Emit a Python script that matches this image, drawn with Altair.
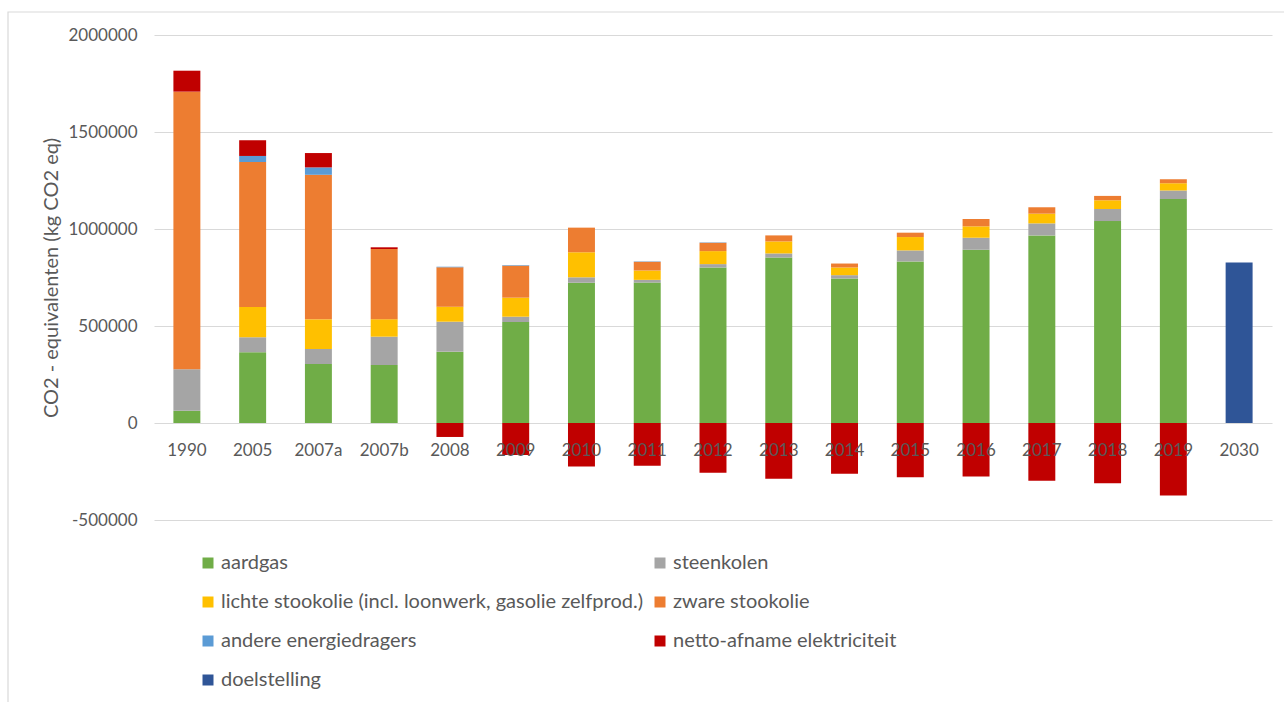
import altair as alt
import pandas as pd

# Years on the x axis (two measurements for 2007)
years = ["1990", "2005", "2007a", "2007b", "2008", "2009", "2010", "2011", "2012",
         "2013", "2014", "2015", "2016", "2017", "2018", "2019", "2030"]

# Emissions per energy carrier, kg CO2 eq
aardgas = [63000, 365000, 304000, 299000, 367600, 520700, 723000, 724000, 801700,
           853000, 745000, 832700, 893000, 967000, 1041000, 1155000, 0]
steenkolen = [214000, 77000, 77500, 146000, 154700, 27300, 28000, 13900, 17300,
              21000, 17000, 56900, 62000, 62000, 62000, 43000, 0]
lichte_stookolie = [0, 156000, 153000, 90000, 77300, 98000, 129000, 48100, 67000,
                    62000, 39700, 68900, 58700, 50000, 45000, 38000, 0]
zware_stookolie = [1431000, 747500, 745000, 362000, 203000, 165000, 127000, 45000, 43000,
                   31000, 20300, 22500, 37900, 33000, 22600, 21000, 0]
andere = [0, 31000, 38000, 0, 3000, 3000, 0, 2000, 2000,
          0, 0, 0, 0, 0, 0, 0, 0]
netto_elektriciteit = [108000, 81000, 74000, 8700, -72000, -165000, -224000, -220000, -257000,
                       -288000, -262000, -279000, -276000, -298000, -310000, -374000, 0]
doelstelling = [0, 0, 0, 0, 0, 0, 0, 0, 0, 0, 0, 0, 0, 0, 0, 0, 827500]

series_names = [
    "aardgas",
    "steenkolen",
    "lichte stookolie (incl. loonwerk, gasolie zelfprod.)",
    "zware stookolie",
    "andere energiedragers",
    "netto-afname elektriciteit",
    "doelstelling",
]
series_values = [aardgas, steenkolen, lichte_stookolie, zware_stookolie,
                 andere, netto_elektriciteit, doelstelling]
series_colors = ["#70AD47", "#A5A5A5", "#FFC000", "#ED7D31", "#5B9BD5", "#C00000", "#2F5597"]

rows = []
for order, (name, values) in enumerate(zip(series_names, series_values)):
    for year, v in zip(years, values):
        if v != 0:
            rows.append({"jaar": year, "drager": name, "waarde": v, "volgorde": order})
df = pd.DataFrame(rows)

FONT = "Lato"
TEXT = "#595959"
GRID = "#D9D9D9"

PLOT_W, PLOT_H = 1118, 485
Y_MIN, Y_MAX = -500000, 2000000
zero_offset = -PLOT_H * (0 - Y_MIN) / (Y_MAX - Y_MIN)

bars = alt.Chart(df).mark_bar().encode(
    x=alt.X(
        "jaar:N",
        sort=years,
        scale=alt.Scale(paddingInner=0.59, paddingOuter=0.295),
        axis=alt.Axis(
            title=None, labelAngle=0, domain=False, ticks=False,
            offset=zero_offset, labelPadding=19, zindex=1,
            labelFont=FONT, labelFontSize=17, labelColor=TEXT,
        ),
    ),
    y=alt.Y(
        "sum(waarde):Q",
        stack="zero",
        scale=alt.Scale(domain=[Y_MIN, Y_MAX], nice=False, zero=True),
        axis=alt.Axis(
            title="CO2 - equivalenten (kg CO2 eq)",
            values=[-500000, 0, 500000, 1000000, 1500000, 2000000],
            labelExpr="datum.value < 0 ? '-' + format(-datum.value, 'd') : format(datum.value, 'd')",
            domain=False, ticks=False,
            grid=True, gridColor=GRID, gridWidth=1,
            labelPadding=17, labelFont=FONT, labelFontSize=17, labelColor=TEXT,
            titleFont=FONT, titleFontSize=20, titleFontWeight="normal",
            titleColor=TEXT, titlePadding=6,
        ),
    ),
    color=alt.Color(
        "drager:N",
        scale=alt.Scale(domain=series_names, range=series_colors),
        legend=alt.Legend(
            title=None, orient="none", direction="horizontal",
            legendX=44, legendY=518,
            columns=2, columnPadding=7, rowPadding=19,
            symbolType="square", symbolSize=121, symbolStrokeWidth=0,
            labelFont=FONT, labelFontSize=20, labelColor=TEXT, labelOffset=3,
            labelLimit=700,
        ),
    ),
    order=alt.Order("volgorde:Q", sort="ascending"),
)

# Light frame around the whole figure
frame = alt.Chart(pd.DataFrame({"k": [0]})).mark_rect(
    fillOpacity=0, stroke=GRID, strokeWidth=1.2
).encode(
    x=alt.value(-146), x2=alt.value(PLOT_W + 40),
    y=alt.value(-23), y2=alt.value(PLOT_H + 250),
)

chart = alt.layer(frame, bars).properties(
    width=PLOT_W,
    height=PLOT_H,
    padding={"left": 154, "top": 35, "right": 12, "bottom": 182},
    autosize=alt.AutoSizeParams(type="none"),
    background="white",
).configure_view(stroke=None)

chart.save("out.html", embed_options={"renderer": "svg", "actions": False})
